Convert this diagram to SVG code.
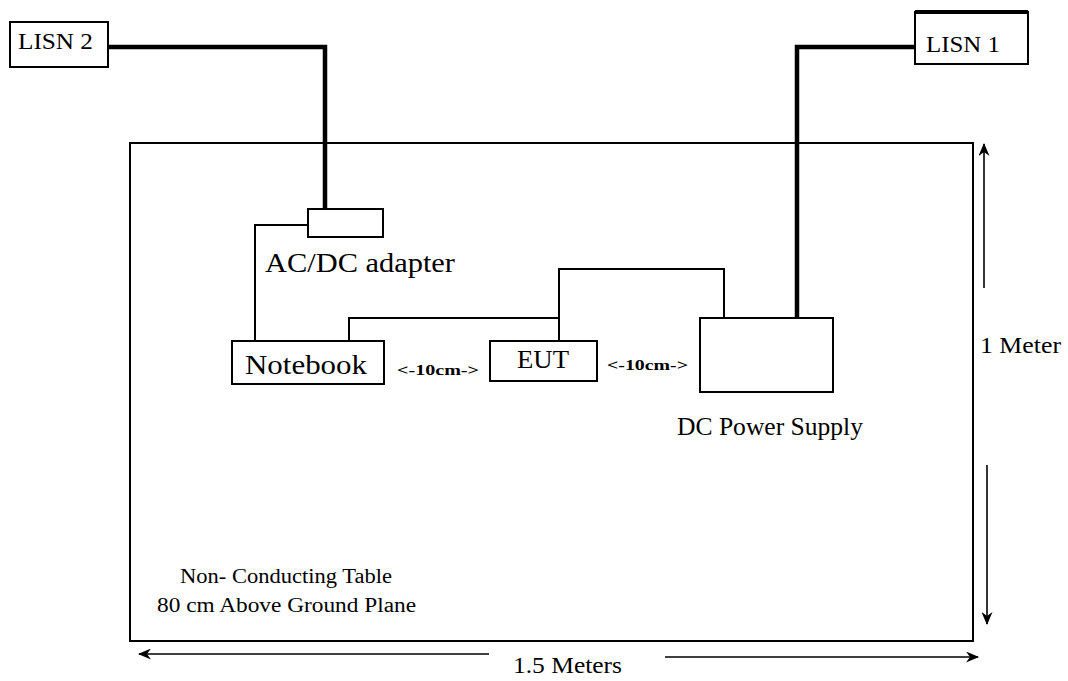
<svg xmlns="http://www.w3.org/2000/svg" width="1068" height="681" viewBox="0 0 1068 681">
<style>
.box{fill:#fff;stroke:#000;stroke-width:2}
.thick{fill:none;stroke:#000;stroke-width:4.5;stroke-linejoin:miter}
.thin{fill:none;stroke:#000;stroke-width:2}
.dim{fill:none;stroke:#000;stroke-width:1.6}
text{font-family:"Liberation Serif","DejaVu Serif",serif;fill:#000}
.small{font-size:14px;font-weight:bold}
</style>
<defs>
<marker id="ah" viewBox="0 0 13 11" refX="12" refY="5.5" markerWidth="13" markerHeight="11" markerUnits="userSpaceOnUse" orient="auto">
<path d="M0,0 L13,5.5 L0,11 L4,5.5 Z" fill="#000"/>
</marker>
</defs>
<rect width="1068" height="681" fill="#fff"/>
<g id="table">
<rect x="130" y="143" width="843" height="498" fill="none" stroke="#000" stroke-width="2"/>
<text x="180" y="583" font-size="20" textLength="212" lengthAdjust="spacingAndGlyphs">Non- Conducting Table</text>
<text x="157" y="612" font-size="20" textLength="259" lengthAdjust="spacingAndGlyphs">80 cm Above Ground Plane</text>
</g>
<g id="connectors">
<polyline class="thick" points="108,47 325,47 325,209"/>
<polyline class="thick" points="915,47 797,47 797,318"/>
<polyline class="thin" points="308,225 255,225 255,341"/>
<polyline class="thin" points="349,341 349,318 559,318"/>
<polyline class="thin" points="559,341 559,269 724,269 724,318"/>
</g>
<g id="lisn2">
<rect class="box" x="10" y="22" width="98" height="45"/>
<text x="18" y="49" font-size="24" textLength="75" lengthAdjust="spacingAndGlyphs">LISN 2</text>
</g>
<g id="lisn1">
<rect class="box" x="915" y="12" width="113" height="52"/>
<line x1="915" y1="12" x2="1028" y2="12" stroke="#000" stroke-width="4"/>
<text x="926" y="52" font-size="24" textLength="74" lengthAdjust="spacingAndGlyphs">LISN 1</text>
</g>
<g id="adapter">
<rect class="box" x="308" y="209" width="75" height="28"/>
<text x="265" y="272" font-size="27" textLength="190" lengthAdjust="spacingAndGlyphs">AC/DC adapter</text>
</g>
<g id="notebook">
<rect class="box" x="232" y="341" width="152" height="43"/>
<text x="245" y="374" font-size="27" textLength="122" lengthAdjust="spacingAndGlyphs">Notebook</text>
</g>
<g id="eut">
<rect class="box" x="490" y="341" width="107" height="40"/>
<text x="517" y="368" font-size="26" textLength="52" lengthAdjust="spacingAndGlyphs">EUT</text>
</g>
<g id="dcps">
<rect class="box" x="700" y="318" width="133" height="74"/>
<text x="677" y="435" font-size="25" textLength="186" lengthAdjust="spacingAndGlyphs">DC Power Supply</text>
</g>
<g id="labels">
<text class="small" x="397" y="375" textLength="82" lengthAdjust="spacingAndGlyphs">&lt;-10cm-&gt;</text>
<text class="small" x="607" y="370" textLength="81" lengthAdjust="spacingAndGlyphs">&lt;-10cm-&gt;</text>
</g>
<g id="dimensions">
<line class="dim" x1="489" y1="654" x2="139" y2="654" marker-end="url(#ah)"/>
<line class="dim" x1="665" y1="657" x2="978" y2="657" marker-end="url(#ah)"/>
<text x="513" y="673" font-size="23" textLength="109" lengthAdjust="spacingAndGlyphs">1.5 Meters</text>
<line class="dim" x1="984" y1="288" x2="984" y2="144" marker-end="url(#ah)"/>
<line class="dim" x1="987" y1="465" x2="987" y2="624" marker-end="url(#ah)"/>
<text x="980" y="353" font-size="23" textLength="81" lengthAdjust="spacingAndGlyphs">1 Meter</text>
</g>
</svg>
